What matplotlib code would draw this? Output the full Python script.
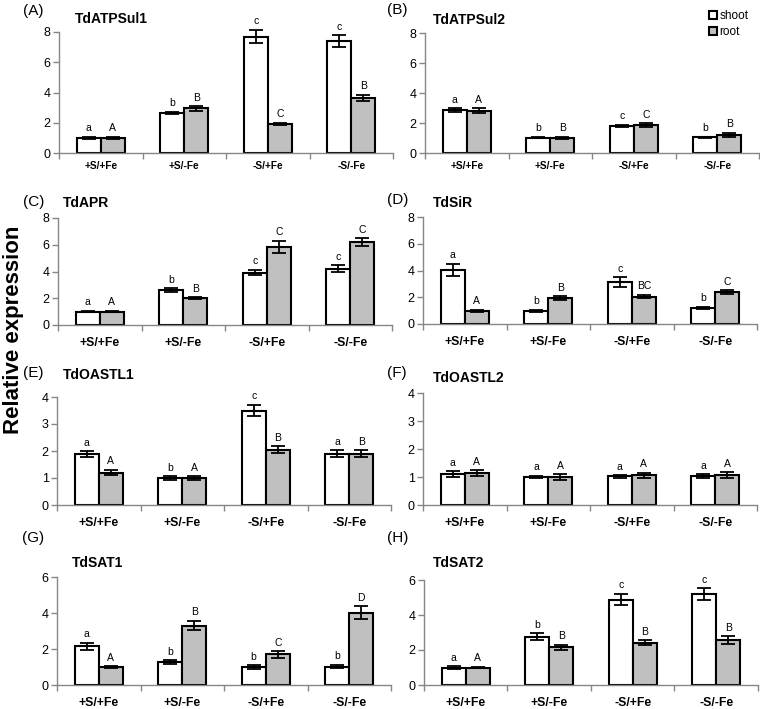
import matplotlib
matplotlib.use("Agg")
import matplotlib.pyplot as plt
import numpy as np
from matplotlib.patches import Patch

plt.rcParams['font.family'] = ['Liberation Sans', 'DejaVu Sans']

conditions = ['+S/+Fe', '+S/-Fe', '-S/+Fe', '-S/-Fe']

# (A) TdATPSul1
atpsul1_shoot = [1.0, 2.65, 7.7, 7.4]
atpsul1_shoot_err = [0.07, 0.08, 0.45, 0.4]
atpsul1_root = [1.0, 2.95, 1.92, 3.65]
atpsul1_root_err = [0.07, 0.15, 0.07, 0.2]
atpsul1_shoot_letters = ['a', 'b', 'c', 'c']
atpsul1_root_letters = ['A', 'B', 'C', 'B']

# (B) TdATPSul2
atpsul2_shoot = [2.88, 1.02, 1.8, 1.05]
atpsul2_shoot_err = [0.12, 0.05, 0.08, 0.05]
atpsul2_root = [2.83, 1.02, 1.85, 1.2]
atpsul2_root_err = [0.15, 0.08, 0.12, 0.14]
atpsul2_shoot_letters = ['a', 'b', 'c', 'b']
atpsul2_root_letters = ['A', 'B', 'C', 'B']

# (C) TdAPR
apr_shoot = [1.0, 2.62, 3.92, 4.2]
apr_shoot_err = [0.06, 0.12, 0.2, 0.25]
apr_root = [1.0, 2.0, 5.85, 6.2]
apr_root_err = [0.06, 0.06, 0.45, 0.28]
apr_shoot_letters = ['a', 'b', 'c', 'c']
apr_root_letters = ['A', 'B', 'C', 'C']

# (D) TdSiR
sir_shoot = [4.05, 1.0, 3.15, 1.2]
sir_shoot_err = [0.45, 0.08, 0.35, 0.08]
sir_root = [1.0, 1.95, 2.05, 2.38]
sir_root_err = [0.08, 0.14, 0.14, 0.15]
sir_shoot_letters = ['a', 'b', 'c', 'b']
sir_root_letters = ['A', 'B', 'BC', 'C']

# (E) TdOASTL1
oastl1_shoot = [1.88, 1.0, 3.5, 1.9]
oastl1_shoot_err = [0.12, 0.06, 0.22, 0.12]
oastl1_root = [1.2, 1.0, 2.05, 1.9]
oastl1_root_err = [0.1, 0.07, 0.13, 0.12]
oastl1_shoot_letters = ['a', 'b', 'c', 'a']
oastl1_root_letters = ['A', 'A', 'B', 'B']

# (F) TdOASTL2
oastl2_shoot = [1.1, 1.0, 1.02, 1.03]
oastl2_shoot_err = [0.1, 0.05, 0.05, 0.07]
oastl2_root = [1.14, 1.0, 1.07, 1.07]
oastl2_root_err = [0.11, 0.09, 0.09, 0.1]
oastl2_shoot_letters = ['a', 'a', 'a', 'a']
oastl2_root_letters = ['A', 'A', 'A', 'A']

# (G) TdSAT1
sat1_shoot = [2.15, 1.27, 1.0, 1.02]
sat1_shoot_err = [0.2, 0.12, 0.1, 0.1]
sat1_root = [1.0, 3.3, 1.7, 4.02]
sat1_root_err = [0.05, 0.26, 0.18, 0.35]
sat1_shoot_letters = ['a', 'b', 'b', 'b']
sat1_root_letters = ['A', 'B', 'C', 'D']

# (H) TdSAT2
sat2_shoot = [1.0, 2.75, 4.88, 5.18]
sat2_shoot_err = [0.06, 0.2, 0.33, 0.35]
sat2_root = [1.0, 2.15, 2.42, 2.58]
sat2_root_err = [0.05, 0.15, 0.13, 0.22]
sat2_shoot_letters = ['a', 'b', 'c', 'c']
sat2_root_letters = ['A', 'B', 'B', 'B']

W, H = 760, 709
GREY_AXIS = '#868686'
ROOT_COLOR = '#c0c0c0'

# label, gene, data, ylim, yticks, axes box in px (left, top, right, bottom),
# panel-label pos, title pos, x label size, x label pad
panels = [
    ('(A)', 'TdATPSul1', (atpsul1_shoot, atpsul1_shoot_err, atpsul1_root, atpsul1_root_err,
                          atpsul1_shoot_letters, atpsul1_root_letters),
     8, [0, 2, 4, 6, 8], (59, 32, 393, 153), (23, 11), (75, 19), 7.3, 5.5),
    ('(B)', 'TdATPSul2', (atpsul2_shoot, atpsul2_shoot_err, atpsul2_root, atpsul2_root_err,
                          atpsul2_shoot_letters, atpsul2_root_letters),
     8, [0, 2, 4, 6, 8], (425, 33, 759, 153), (387, 10), (433, 20), 7.3, 5.5),
    ('(C)', 'TdAPR', (apr_shoot, apr_shoot_err, apr_root, apr_root_err,
                      apr_shoot_letters, apr_root_letters),
     8, [0, 2, 4, 6, 8], (58, 218, 392, 325), (23, 202), (63, 203), 8.8, 9),
    ('(D)', 'TdSiR', (sir_shoot, sir_shoot_err, sir_root, sir_root_err,
                      sir_shoot_letters, sir_root_letters),
     8, [0, 2, 4, 6, 8], (423, 217, 757, 324), (387, 200), (433, 203), 8.8, 9),
    ('(E)', 'TdOASTL1', (oastl1_shoot, oastl1_shoot_err, oastl1_root, oastl1_root_err,
                         oastl1_shoot_letters, oastl1_root_letters),
     4, [0, 1, 2, 3, 4], (57, 397, 391, 505), (23, 373), (63, 375), 8.8, 9),
    ('(F)', 'TdOASTL2', (oastl2_shoot, oastl2_shoot_err, oastl2_root, oastl2_root_err,
                         oastl2_shoot_letters, oastl2_root_letters),
     4, [0, 1, 2, 3, 4], (423, 393, 757, 505), (387, 373), (433, 378), 8.8, 9),
    ('(G)', 'TdSAT1', (sat1_shoot, sat1_shoot_err, sat1_root, sat1_root_err,
                       sat1_shoot_letters, sat1_root_letters),
     6, [0, 2, 4, 6], (57, 577, 391, 685), (22, 538), (72, 563), 8.8, 9),
    ('(H)', 'TdSAT2', (sat2_shoot, sat2_shoot_err, sat2_root, sat2_root_err,
                       sat2_shoot_letters, sat2_root_letters),
     6, [0, 2, 4, 6], (424, 580, 758, 685), (387, 538), (433, 563), 8.8, 9),
]


def draw_panel(fig, spec):
    (plabel, gene, data, ymax, yticks, box, ppos, tpos, xfs, xpad) = spec
    shoot, shoot_err, root, root_err, s_let, r_let = data
    left, top, right, bottom = box
    ax = fig.add_axes([left / W, 1 - bottom / H, (right - left) / W, (bottom - top) / H])

    x = np.arange(len(conditions))
    bw = 0.29
    ax.bar(x - bw / 2, shoot, bw, color='white', edgecolor='black', linewidth=1.5, zorder=2)
    ax.bar(x + bw / 2, root, bw, color=ROOT_COLOR, edgecolor='black', linewidth=1.5, zorder=2)
    for xs, ys, es in ((x - bw / 2, shoot, shoot_err), (x + bw / 2, root, root_err)):
        eb = ax.errorbar(xs, ys, yerr=es, fmt='none', ecolor='black', elinewidth=1.3,
                         capthick=1.3, capsize=5, zorder=3)
        for art in eb.lines[1] + eb.lines[2]:
            art.set_clip_on(False)

    for i in range(len(conditions)):
        ax.annotate(s_let[i], (x[i] - bw / 2, shoot[i] + shoot_err[i]),
                    xytext=(0, 2.5), textcoords='offset points', annotation_clip=False,
                    ha='center', va='bottom', fontsize=7.5)
        ax.annotate(r_let[i], (x[i] + bw / 2, root[i] + root_err[i]),
                    xytext=(0, 2.5), textcoords='offset points', annotation_clip=False,
                    ha='center', va='bottom', fontsize=7.5)

    ax.set_xlim(-0.5, len(conditions) - 0.5)
    ax.set_ylim(0, ymax)
    ax.set_yticks(yticks)
    ax.set_xticks(x)
    ax.set_xticklabels(conditions, fontweight='bold', fontsize=xfs)
    ax.set_xticks(np.arange(-0.5, len(conditions)), minor=True)
    ax.tick_params(axis='x', which='major', length=0, pad=xpad)
    ax.tick_params(axis='x', which='minor', length=4, color=GREY_AXIS, width=1)
    ax.tick_params(axis='y', length=4, color=GREY_AXIS, width=1, labelsize=9, pad=2)

    for s in ('top', 'right'):
        ax.spines[s].set_visible(False)
    for s in ('left', 'bottom'):
        ax.spines[s].set_color(GREY_AXIS)
        ax.spines[s].set_linewidth(1)

    fig.text(ppos[0] / W, 1 - ppos[1] / H, plabel, fontsize=11, va='center', ha='left')
    fig.text(tpos[0] / W, 1 - tpos[1] / H, gene, fontsize=10, fontweight='bold',
             va='center', ha='left')
    return ax


fig = plt.figure(figsize=(W / 100, H / 100), dpi=100)

for spec in panels:
    draw_panel(fig, spec)

fig.text(14 / W, 1 - 330 / H, 'Relative expression', rotation=90, fontsize=16,
         fontweight='bold', ha='center', va='center')

handles = [Patch(facecolor='white', edgecolor='black', linewidth=1.5, label='shoot'),
           Patch(facecolor=ROOT_COLOR, edgecolor='black', linewidth=1.5, label='root')]
fig.legend(handles=handles, loc='upper right', bbox_to_anchor=(757 / W, 1 - 2 / H),
           frameon=False, fontsize=8.5, handlelength=0.7, handleheight=0.7,
           handletextpad=0.2, labelspacing=0.3, borderpad=0.2)

fig.savefig('out.png', dpi=100)
